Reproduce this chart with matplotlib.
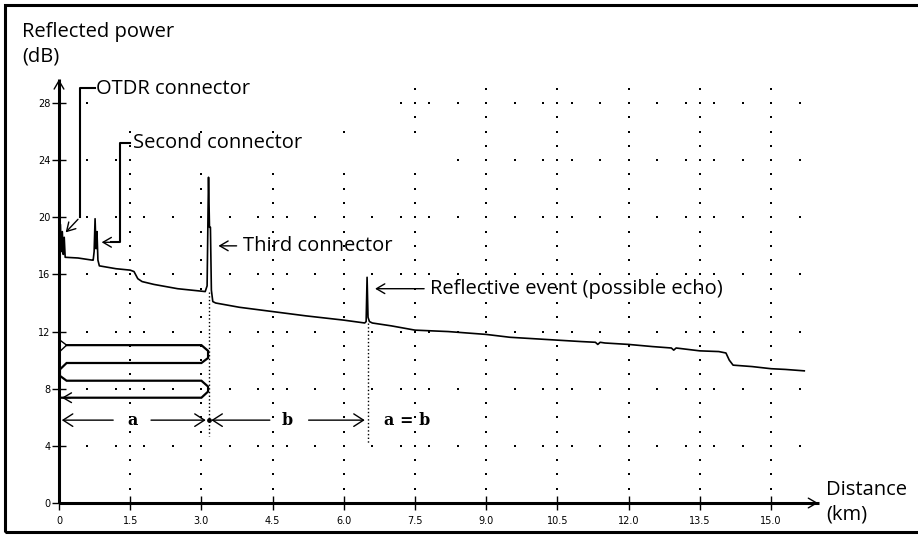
import numpy as np
import matplotlib.pyplot as plt
from matplotlib.patches import Rectangle

# OTDR trace
dist_km = [0.00, 0.03, 0.05, 0.07, 0.09, 0.11, 0.13, 0.40, 0.70, 0.72, 0.74, 0.76,
           0.78, 0.80, 0.82, 0.85, 1.20, 1.50, 1.58, 1.66, 1.75, 2.00, 2.50, 3.08,
           3.12, 3.14, 3.15, 3.17, 3.19, 3.21, 3.24, 3.30, 3.80, 4.50, 5.20, 6.00,
           6.44, 6.47, 6.49, 6.51, 6.54, 6.60, 7.00, 7.50, 8.20, 8.60, 9.00, 9.50,
           10.00, 10.50, 11.00, 11.30, 11.35, 11.40, 11.50, 12.00, 12.50, 12.90,
           12.95, 13.00, 13.50, 13.90, 14.05, 14.12, 14.20, 14.60, 15.00, 15.30, 15.70]
power_db = [18.0, 19.5, 17.6, 19.0, 17.4, 18.6, 17.2, 17.15, 17.0, 17.0, 17.6, 19.9,
            17.8, 19.0, 17.0, 16.6, 16.4, 16.3, 16.2, 15.7, 15.5, 15.3, 15.0, 14.8,
            15.2, 20.5, 22.8, 19.3, 19.3, 14.9, 14.1, 14.0, 13.7, 13.4, 13.1, 12.8,
            12.6, 12.7, 15.8, 13.0, 12.7, 12.6, 12.4, 12.1, 12.0, 11.9, 11.8, 11.6,
            11.5, 11.4, 11.3, 11.25, 11.1, 11.25, 11.2, 11.1, 10.95, 10.85,
            10.7, 10.85, 10.65, 10.6, 10.5, 10.0, 9.65, 9.55, 9.4, 9.35, 9.25]

x_ticks = [0, 1.5, 3.0, 4.5, 6.0, 7.5, 9.0, 10.5, 12.0, 13.5, 15.0]
x_labels = ["0", "1.5", "3.0", "4.5", "6.0", "7.5", "9.0", "10.5", "12.0", "13.5", "15.0"]
y_ticks = [0, 4, 8, 12, 16, 20, 24, 28]

# fibre coil sketch (km, dB)
coil_x = [0.16, 3.0, 3.14, 3.14, 3.0, 0.16, 0.02, 0.02, 0.16, 3.0, 3.14, 3.14, 3.0, 0.06]
coil_y = [11.05, 11.05, 10.65, 10.15, 9.8, 9.8, 9.35, 8.9, 8.56, 8.56, 8.15, 7.8, 7.37, 7.37]

event_a = 3.15   # third connector
event_b = 6.5    # echo
dim_y = 5.8

fig = plt.figure(figsize=(9.18, 5.35), dpi=100)
km_px = 47.47
db_px = 14.286
ax = fig.add_axes([59 / 918, 32 / 535, 16 * km_px / 918, 29.7 * db_px / 535])
ax.set_xlim(0, 16)
ax.set_ylim(0, 29.7)
for s in ["top", "right"]:
    ax.spines[s].set_visible(False)
for s in ["left", "bottom"]:
    ax.spines[s].set_linewidth(2.2)
    ax.spines[s].set_capstyle("butt")

ax.set_xticks(x_ticks)
ax.set_xticklabels(x_labels)
ax.set_yticks(y_ticks)
ax.tick_params(direction="inout", length=10, width=1, labelsize=7, color="black")
ax.tick_params(axis="x", pad=4)
ax.tick_params(axis="y", pad=1)

# axis arrowheads
ax.annotate("", xy=(0, 1.005), xytext=(0, 0.96), xycoords="axes fraction",
            arrowprops=dict(arrowstyle="->,head_length=0.6,head_width=0.35", lw=1, color="black"))
ax.annotate("", xy=(1.003, 0), xytext=(0.97, 0), xycoords="axes fraction",
            arrowprops=dict(arrowstyle="->,head_length=0.6,head_width=0.35", lw=1, color="black"))

# dotted grid
row_x = 0.6 * np.arange(1, 27)
row_y = np.arange(4, 29, 4)
col_x = 1.5 * np.arange(1, 11)
col_y = np.arange(1, 30)
gx, gy = np.meshgrid(row_x, row_y)
ax.scatter(gx.ravel(), gy.ravel(), s=2, marker="s", color="black", linewidths=0, zorder=1)
gx, gy = np.meshgrid(col_x, col_y)
ax.scatter(gx.ravel(), gy.ravel(), s=2, marker="s", color="black", linewidths=0, zorder=1)
ax.add_patch(Rectangle((0.7, 26.4), 6.4, 4, fc="white", ec="none", zorder=1.5))
ax.add_patch(Rectangle((1.6, 23.5), 6.7, 2.0, fc="white", ec="none", zorder=1.5))

# trace
ax.plot(dist_km, power_db, color="black", lw=1.2, zorder=3)

# event markers
ax.plot([event_a, event_a], [14.8, 4.7], color="black", ls=":", lw=1, zorder=3)
ax.plot([event_b, event_b], [12.6, 4.2], color="black", ls=":", lw=1, zorder=3)

# coil
ax.plot(coil_x, coil_y, color="black", lw=1.6, solid_joinstyle="miter", zorder=3)
ax.plot([0.0, 0.16, 0.0], [11.45, 11.05, 10.55], color="black", lw=1, zorder=3)
ax.annotate("", xy=(0.0, 7.37), xytext=(0.3, 7.37),
            arrowprops=dict(arrowstyle="->,head_length=0.6,head_width=0.35", lw=1, color="black"))

# dimension arrows a / b
head = dict(arrowstyle="->,head_length=0.7,head_width=0.45", lw=1, color="black")
ax.annotate("", xy=(0.0, dim_y), xytext=(1.2, dim_y), arrowprops=head)
ax.annotate("", xy=(event_a, dim_y), xytext=(1.88, dim_y), arrowprops=head)
ax.annotate("", xy=(event_a, dim_y), xytext=(4.5, dim_y), arrowprops=head)
ax.annotate("", xy=(event_b, dim_y), xytext=(5.2, dim_y), arrowprops=head)
ax.scatter([event_a], [dim_y], s=6, color="black", zorder=4)
serif = dict(family="DejaVu Serif", weight="bold", fontsize=11.5, va="center", ha="center")
ax.text(1.55, dim_y, "a", **serif)
ax.text(4.8, dim_y, "b", **serif)
ax.text(7.33, dim_y, "a = b", **serif)

# annotations
lab = dict(family="Open Sans", fontsize=14.5, va="center", ha="left", zorder=5)
small_head = dict(arrowstyle="->,head_length=0.6,head_width=0.35", lw=1, color="black")
ax.plot([0.75, 0.44, 0.44], [29.05, 29.05, 20.0], color="black", lw=1.5, zorder=3)
ax.annotate("", xy=(0.1, 18.8), xytext=(0.44, 20.0), arrowprops=small_head)
ax.text(0.78, 29.0, "OTDR connector", **lab)
ax.plot([1.5, 1.28, 1.28, 1.1], [25.2, 25.2, 18.25, 18.25], color="black", lw=1.5, zorder=3)
ax.annotate("", xy=(0.84, 18.25), xytext=(1.28, 18.25), arrowprops=small_head)
ax.text(1.56, 25.2, "Second connector", **lab)
ax.annotate("", xy=(3.3, 18.0), xytext=(3.8, 18.0), arrowprops=small_head)
ax.text(3.88, 18.0, "Third connector", **lab)
ax.annotate("", xy=(6.6, 15.0), xytext=(7.75, 15.0), arrowprops=small_head)
ax.text(7.82, 15.0, "Reflective event (possible echo)", **lab)

# axis titles
fig.text(22 / 918, 1 - 22 / 535, "Reflected power\n(dB)", family="Open Sans", fontsize=14.5,
         va="top", ha="left", linespacing=1.3)
fig.text(826 / 918, 1 - 480 / 535, "Distance\n(km)", family="Open Sans", fontsize=14.5,
         va="top", ha="left", linespacing=1.3)

# frame
fig.add_artist(Rectangle((4.5 / 918, 3 / 535), 2, 1 - 7.5 / 535, fill=False, ec="black",
                         lw=2.2, transform=fig.transFigure))

fig.savefig("out.png", dpi=100)
